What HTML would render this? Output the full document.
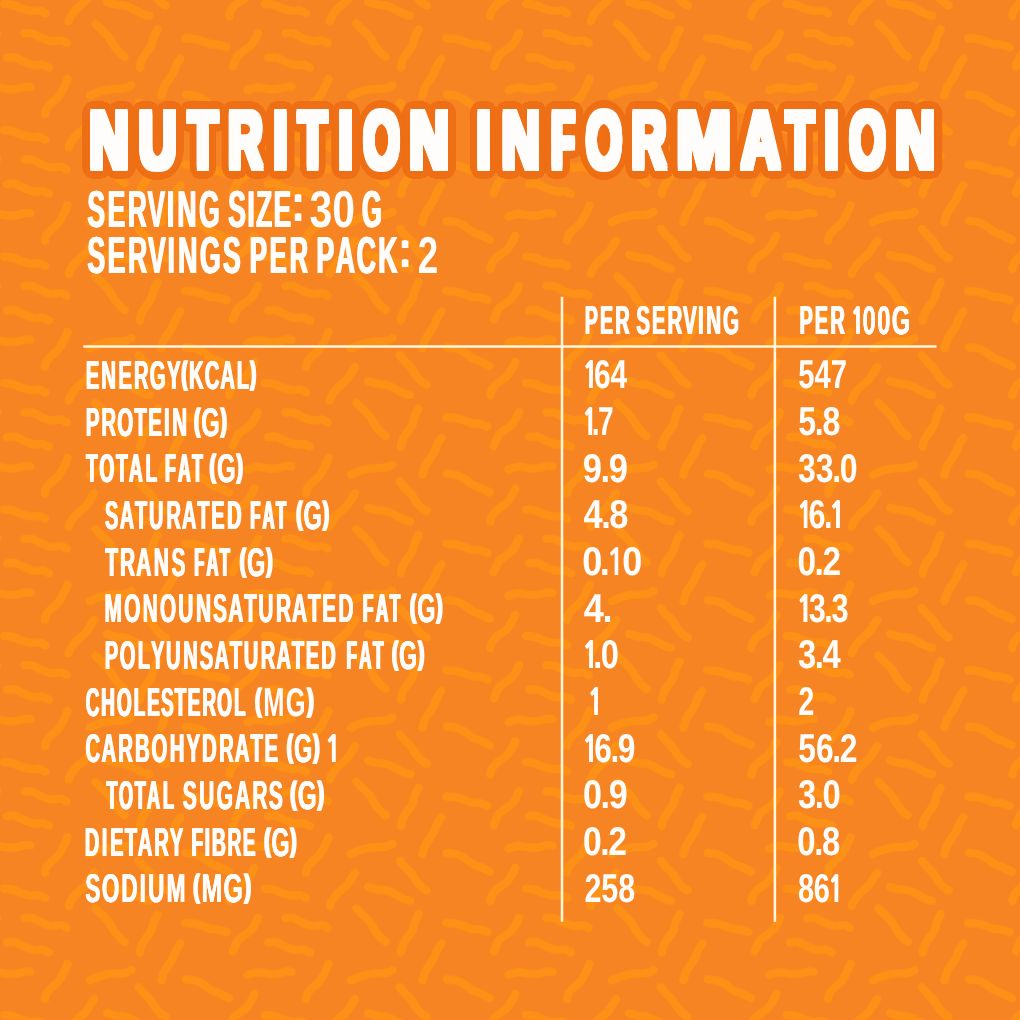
<!DOCTYPE html>
<html lang="en"><head><meta charset="utf-8"><title>Nutrition Information</title>
<style>
html,body{margin:0;padding:0;width:1020px;height:1020px;overflow:hidden;background:#F78420}
svg{display:block;position:absolute;left:0;top:0}
text{font-family:"Liberation Sans",Arial,Helvetica,sans-serif;font-weight:700;fill:#FFFDFB;font-kerning:none;text-rendering:geometricPrecision}
.sq path{fill:none;stroke:#FD9017;stroke-width:8.4;stroke-linecap:round;stroke-linejoin:round}
.n1{font-family:"NanumGothic","Liberation Sans",sans-serif}
.ln{stroke:#FFF6DC;stroke-width:2.5;fill:none}
</style></head><body>
<svg width="1020" height="1020" viewBox="0 0 1020 1020" role="img" aria-label="Nutrition information table">
<defs><pattern id="bg" width="261.0" height="126.4" patternUnits="userSpaceOnUse"><rect width="262.0" height="127.4" fill="#F78420"/><g class="sq">
<path d="M3.9 3.9C5.4 4.1 9.6 4.1 12.7 4.9C15.8 5.7 19.4 7.8 22.5 8.8C25.6 9.8 28.6 10.6 31.4 10.8C34.2 11.1 36.9 9.9 39.2 10.3C41.5 10.7 44.1 12.7 45.1 13.2"/>
<path d="M3.9 130.3C5.4 130.5 9.6 130.5 12.7 131.3C15.8 132.1 19.4 134.2 22.5 135.2C25.6 136.2 28.6 137.0 31.4 137.2C34.2 137.5 36.9 136.3 39.2 136.7C41.5 137.1 44.1 139.1 45.1 139.6"/>
<path d="M264.9 3.9C266.4 4.1 270.6 4.1 273.7 4.9C276.8 5.7 280.4 7.8 283.5 8.8C286.6 9.8 289.6 10.6 292.4 10.8C295.2 11.1 297.9 9.9 300.2 10.3C302.5 10.7 305.1 12.7 306.1 13.2"/>
<path d="M264.9 130.3C266.4 130.5 270.6 130.5 273.7 131.3C276.8 132.1 280.4 134.2 283.5 135.2C286.6 136.2 289.6 137.0 292.4 137.2C295.2 137.5 297.9 136.3 300.2 136.7C302.5 137.1 305.1 139.1 306.1 139.6"/>
<path d="M24.5 33.3C25.8 33.3 29.4 32.5 32.4 33.3C35.4 34.1 38.9 36.9 42.2 38.2C45.5 39.5 48.9 40.9 52.0 41.2C55.1 41.5 58.3 39.9 60.8 40.2C63.2 40.5 65.7 42.6 66.7 43.1"/>
<path d="M6.9 57.8C8.2 57.7 11.8 56.7 14.7 57.4C17.6 58.1 21.2 60.5 24.5 61.8C27.8 63.1 31.3 64.7 34.3 65.2C37.2 65.7 39.8 64.3 42.2 64.7C44.7 65.1 47.9 67.1 49.0 67.6"/>
<path d="M-13.5 90.2C-12.2 89.8 -8.3 88.0 -5.7 87.7C-3.1 87.4 -0.5 87.9 2.1 88.2C4.7 88.5 7.2 89.2 9.8 89.3C12.4 89.4 15.0 89.1 17.6 88.7C20.2 88.3 23.4 87.0 25.5 86.7C27.6 86.5 29.6 87.1 30.4 87.2"/>
<path d="M247.5 90.2C248.8 89.8 252.7 88.0 255.3 87.7C257.9 87.4 260.5 87.9 263.1 88.2C265.7 88.5 268.2 89.2 270.8 89.3C273.4 89.4 276.0 89.1 278.6 88.7C281.2 88.3 284.4 87.0 286.5 86.7C288.6 86.5 290.6 87.1 291.4 87.2"/>
<path d="M94.1 -12.2C93.3 -10.9 90.7 -6.6 89.2 -4.4C87.7 -2.2 87.2 -1.0 85.3 1.0C83.3 3.0 79.8 5.5 77.5 7.8C75.2 10.1 73.1 12.5 71.6 14.7C70.1 16.9 69.2 20.0 68.7 21.1"/>
<path d="M94.1 114.2C93.3 115.5 90.7 119.8 89.2 122.0C87.7 124.2 87.2 125.4 85.3 127.4C83.3 129.4 79.8 131.9 77.5 134.2C75.2 136.5 73.1 138.9 71.6 141.1C70.1 143.3 69.2 146.4 68.7 147.5"/>
<path d="M95.3 23.5C96.3 24.5 98.9 27.1 101.2 29.4C103.5 31.7 106.7 34.3 109.0 37.3C111.3 40.2 112.9 44.3 114.9 47.1C116.9 49.9 119.2 52.3 120.8 53.9C122.4 55.5 124.0 56.4 124.7 56.9"/>
<path d="M67.6 78.9C66.9 80.4 65.3 84.6 63.7 87.7C62.1 90.8 59.9 94.9 57.8 97.5C55.7 100.1 53.0 101.4 51.0 103.4C49.0 105.4 47.1 107.5 46.1 109.3C45.1 111.1 45.3 113.4 45.1 114.2"/>
<path d="M89.8 95.6C91.4 94.9 96.3 92.7 99.6 91.6C102.9 90.5 106.1 89.7 109.4 89.2C112.7 88.7 116.2 89.0 119.2 88.7C122.2 88.5 125.0 88.3 127.1 87.7C129.2 87.1 130.8 85.7 131.5 85.3"/>
<path d="M107.1 2.0C108.4 2.4 111.6 3.8 114.9 4.4C118.2 5.1 123.1 4.8 126.7 5.9C130.3 7.0 133.6 9.3 136.5 10.8C139.4 12.3 142.2 13.9 144.3 14.7C146.4 15.5 148.4 15.5 149.2 15.7"/>
<path d="M107.1 128.4C108.4 128.8 111.6 130.2 114.9 130.8C118.2 131.5 123.1 131.2 126.7 132.3C130.3 133.4 133.6 135.7 136.5 137.2C139.4 138.7 142.2 140.3 144.3 141.1C146.4 141.9 148.4 141.9 149.2 142.1"/>
<path d="M138.8 -24.0C139.6 -23.0 141.7 -20.2 143.7 -18.1C145.7 -16.0 148.6 -13.7 150.6 -11.2C152.6 -8.8 153.8 -5.7 155.5 -3.4C157.2 -1.1 159.3 1.1 161.0 2.6C162.7 4.1 164.9 4.9 165.7 5.4"/>
<path d="M138.8 102.4C139.6 103.4 141.7 106.2 143.7 108.3C145.7 110.4 148.6 112.8 150.6 115.2C152.6 117.7 153.8 120.7 155.5 123.0C157.2 125.3 159.3 127.5 161.0 129.0C162.7 130.5 164.9 131.3 165.7 131.8"/>
<path d="M157.6 29.4C156.9 30.8 154.6 35.2 153.5 38.0C152.4 40.8 152.4 43.6 151.2 46.1C150.0 48.6 147.9 50.5 146.3 52.9C144.7 55.3 142.5 58.3 141.4 60.8C140.3 63.2 140.2 66.5 139.9 67.6"/>
<path d="M185.3 38.2C186.8 38.3 191.2 38.2 194.1 38.7C197.0 39.2 200.1 40.3 202.9 41.2C205.7 42.1 208.2 43.5 210.8 44.1C213.4 44.7 216.0 44.0 218.6 44.6C221.2 45.2 225.2 47.0 226.5 47.5"/>
<path d="M180.4 58.8C179.8 59.8 177.7 62.5 176.5 64.7C175.3 66.9 174.6 69.8 173.5 72.0C172.4 74.2 171.7 75.5 170.2 77.9C168.7 80.4 165.8 83.8 164.3 86.7C162.8 89.7 161.9 94.1 161.4 95.6"/>
<path d="M185.7 94.6C187.2 94.8 191.6 94.8 194.5 95.6C197.4 96.4 200.5 97.9 203.3 99.5C206.1 101.1 208.2 103.8 211.2 105.4C214.1 107.0 218.1 108.0 221.0 109.3C223.9 110.6 227.5 112.5 228.8 113.2"/>
<path d="M254.3 -17.1C253.7 -15.8 251.9 -11.8 250.4 -9.3C248.9 -6.9 247.1 -4.1 245.5 -2.4C243.9 -0.8 242.9 -0.8 241.0 0.6C239.1 2.0 236.1 4.0 234.3 5.9C232.5 7.8 231.2 10.1 230.4 11.8C229.6 13.5 229.6 15.5 229.4 16.2"/>
<path d="M254.3 109.3C253.7 110.6 251.9 114.6 250.4 117.1C248.9 119.5 247.1 122.3 245.5 124.0C243.9 125.7 242.9 125.6 241.0 127.0C239.1 128.4 236.1 130.4 234.3 132.3C232.5 134.2 231.2 136.5 230.4 138.2C229.6 139.9 229.6 141.9 229.4 142.6"/>
<path d="M-3.0 33.0C-4.0 34.8 -6.6 41.1 -8.8 43.9C-11.0 46.7 -13.7 48.2 -16.0 50.0C-18.3 51.8 -21.0 53.1 -22.6 54.9C-24.2 56.7 -24.8 58.8 -25.7 60.8C-26.6 62.8 -27.8 65.7 -28.2 66.7"/>
<path d="M258.0 33.0C257.0 34.8 254.4 41.1 252.2 43.9C250.0 46.7 247.3 48.2 245.0 50.0C242.7 51.8 240.0 53.1 238.4 54.9C236.8 56.7 236.2 58.8 235.3 60.8C234.4 62.8 233.2 65.7 232.8 66.7"/>
</g></pattern><filter id="soft" x="0" y="0" width="1" height="1"><feGaussianBlur stdDeviation="0.7"/></filter></defs>
<rect x="-10" y="-10" width="1040" height="1040" fill="url(#bg)" filter="url(#soft)"/>
<g class="ln"><path d="M83.3 346.6H936.5"/><path d="M562 296.8V921.8"/><path d="M774.9 296.8V921.8"/></g>
<g class="h1" aria-label="NUTRITION INFORMATION"><text transform="scale(0.6401,1)" font-size="81.40" y="168.00" x="139.9 216.9 294.0 356.5 426.9 466.2 528.6 567.5 639.7" style="text-shadow:-4.14px -3.00px 0 #FFFDFB,-4.14px 0.00px 0 #FFFDFB,-4.14px 3.00px 0 #FFFDFB,0.00px -3.00px 0 #FFFDFB,0.00px 3.00px 0 #FFFDFB,4.14px -3.00px 0 #FFFDFB,4.14px 0.00px 0 #FFFDFB,4.14px 3.00px 0 #FFFDFB,-4.14px -1.50px 0 #FFFDFB,-4.14px 1.50px 0 #FFFDFB,4.14px -1.50px 0 #FFFDFB,4.14px 1.50px 0 #FFFDFB,16.17px 0.00px 0 #EE6F15,15.97px 1.67px 0 #EE6F15,15.38px 3.31px 0 #EE6F15,14.41px 4.86px 0 #EE6F15,13.08px 6.29px 0 #EE6F15,11.43px 7.57px 0 #EE6F15,9.50px 8.66px 0 #EE6F15,7.34px 9.53px 0 #EE6F15,5.00px 10.18px 0 #EE6F15,2.53px 10.57px 0 #EE6F15,0.00px 10.70px 0 #EE6F15,-2.53px 10.57px 0 #EE6F15,-5.00px 10.18px 0 #EE6F15,-7.34px 9.53px 0 #EE6F15,-9.50px 8.66px 0 #EE6F15,-11.43px 7.57px 0 #EE6F15,-13.08px 6.29px 0 #EE6F15,-14.41px 4.86px 0 #EE6F15,-15.38px 3.31px 0 #EE6F15,-15.97px 1.67px 0 #EE6F15,-16.17px 0.00px 0 #EE6F15,-15.97px -1.67px 0 #EE6F15,-15.38px -3.31px 0 #EE6F15,-14.41px -4.86px 0 #EE6F15,-13.08px -6.29px 0 #EE6F15,-11.43px -7.57px 0 #EE6F15,-9.50px -8.66px 0 #EE6F15,-7.34px -9.53px 0 #EE6F15,-5.00px -10.18px 0 #EE6F15,-2.53px -10.57px 0 #EE6F15,-0.00px -10.70px 0 #EE6F15,2.53px -10.57px 0 #EE6F15,5.00px -10.18px 0 #EE6F15,7.34px -9.53px 0 #EE6F15,9.50px -8.66px 0 #EE6F15,11.43px -7.57px 0 #EE6F15,13.08px -6.29px 0 #EE6F15,14.41px -4.86px 0 #EE6F15,15.38px -3.31px 0 #EE6F15,15.97px -1.67px 0 #EE6F15,8.94px 0.94px 0 #EE6F15,8.07px 2.72px 0 #EE6F15,6.40px 4.24px 0 #EE6F15,4.11px 5.34px 0 #EE6F15,1.42px 5.92px 0 #EE6F15,-1.42px 5.92px 0 #EE6F15,-4.11px 5.34px 0 #EE6F15,-6.40px 4.24px 0 #EE6F15,-8.07px 2.72px 0 #EE6F15,-8.94px 0.94px 0 #EE6F15,-8.94px -0.94px 0 #EE6F15,-8.07px -2.72px 0 #EE6F15,-6.40px -4.24px 0 #EE6F15,-4.11px -5.34px 0 #EE6F15,-1.42px -5.92px 0 #EE6F15,1.42px -5.92px 0 #EE6F15,4.11px -5.34px 0 #EE6F15,6.40px -4.24px 0 #EE6F15,8.07px -2.72px 0 #EE6F15,8.94px -0.94px 0 #EE6F15"><tspan textLength="60.9" lengthAdjust="spacingAndGlyphs">N</tspan>U<tspan textLength="45.7" lengthAdjust="spacingAndGlyphs">T</tspan><tspan textLength="53.8" lengthAdjust="spacingAndGlyphs">R</tspan><tspan textLength="22.3" lengthAdjust="spacingAndGlyphs">I</tspan><tspan textLength="44.5" lengthAdjust="spacingAndGlyphs">T</tspan>I<tspan textLength="56.7" lengthAdjust="spacingAndGlyphs">O</tspan><tspan textLength="61.5" lengthAdjust="spacingAndGlyphs">N</tspan></text> <text transform="scale(0.6401,1)" font-size="81.40" y="168.00" x="744.9 784.1 862.2 915.5 987.0 1056.2 1158.2 1227.8 1288.3 1327.0 1399.1" style="text-shadow:-4.14px -3.00px 0 #FFFDFB,-4.14px 0.00px 0 #FFFDFB,-4.14px 3.00px 0 #FFFDFB,0.00px -3.00px 0 #FFFDFB,0.00px 3.00px 0 #FFFDFB,4.14px -3.00px 0 #FFFDFB,4.14px 0.00px 0 #FFFDFB,4.14px 3.00px 0 #FFFDFB,-4.14px -1.50px 0 #FFFDFB,-4.14px 1.50px 0 #FFFDFB,4.14px -1.50px 0 #FFFDFB,4.14px 1.50px 0 #FFFDFB,16.17px 0.00px 0 #EE6F15,15.97px 1.67px 0 #EE6F15,15.38px 3.31px 0 #EE6F15,14.41px 4.86px 0 #EE6F15,13.08px 6.29px 0 #EE6F15,11.43px 7.57px 0 #EE6F15,9.50px 8.66px 0 #EE6F15,7.34px 9.53px 0 #EE6F15,5.00px 10.18px 0 #EE6F15,2.53px 10.57px 0 #EE6F15,0.00px 10.70px 0 #EE6F15,-2.53px 10.57px 0 #EE6F15,-5.00px 10.18px 0 #EE6F15,-7.34px 9.53px 0 #EE6F15,-9.50px 8.66px 0 #EE6F15,-11.43px 7.57px 0 #EE6F15,-13.08px 6.29px 0 #EE6F15,-14.41px 4.86px 0 #EE6F15,-15.38px 3.31px 0 #EE6F15,-15.97px 1.67px 0 #EE6F15,-16.17px 0.00px 0 #EE6F15,-15.97px -1.67px 0 #EE6F15,-15.38px -3.31px 0 #EE6F15,-14.41px -4.86px 0 #EE6F15,-13.08px -6.29px 0 #EE6F15,-11.43px -7.57px 0 #EE6F15,-9.50px -8.66px 0 #EE6F15,-7.34px -9.53px 0 #EE6F15,-5.00px -10.18px 0 #EE6F15,-2.53px -10.57px 0 #EE6F15,-0.00px -10.70px 0 #EE6F15,2.53px -10.57px 0 #EE6F15,5.00px -10.18px 0 #EE6F15,7.34px -9.53px 0 #EE6F15,9.50px -8.66px 0 #EE6F15,11.43px -7.57px 0 #EE6F15,13.08px -6.29px 0 #EE6F15,14.41px -4.86px 0 #EE6F15,15.38px -3.31px 0 #EE6F15,15.97px -1.67px 0 #EE6F15,8.94px 0.94px 0 #EE6F15,8.07px 2.72px 0 #EE6F15,6.40px 4.24px 0 #EE6F15,4.11px 5.34px 0 #EE6F15,1.42px 5.92px 0 #EE6F15,-1.42px 5.92px 0 #EE6F15,-4.11px 5.34px 0 #EE6F15,-6.40px 4.24px 0 #EE6F15,-8.07px 2.72px 0 #EE6F15,-8.94px 0.94px 0 #EE6F15,-8.94px -0.94px 0 #EE6F15,-8.07px -2.72px 0 #EE6F15,-6.40px -4.24px 0 #EE6F15,-4.11px -5.34px 0 #EE6F15,-1.42px -5.92px 0 #EE6F15,1.42px -5.92px 0 #EE6F15,4.11px -5.34px 0 #EE6F15,6.40px -4.24px 0 #EE6F15,8.07px -2.72px 0 #EE6F15,8.94px -0.94px 0 #EE6F15"><tspan textLength="21.5" lengthAdjust="spacingAndGlyphs">I</tspan><tspan textLength="59.5" lengthAdjust="spacingAndGlyphs">N</tspan><tspan textLength="34.8" lengthAdjust="spacingAndGlyphs" style="text-shadow:-5.91px -3.00px 0 #FFFDFB,-5.91px 0.00px 0 #FFFDFB,-5.91px 3.00px 0 #FFFDFB,0.00px -3.00px 0 #FFFDFB,0.00px 3.00px 0 #FFFDFB,5.91px -3.00px 0 #FFFDFB,5.91px 0.00px 0 #FFFDFB,5.91px 3.00px 0 #FFFDFB,-5.91px -1.50px 0 #FFFDFB,-5.91px 1.50px 0 #FFFDFB,5.91px -1.50px 0 #FFFDFB,5.91px 1.50px 0 #FFFDFB,23.10px 0.00px 0 #EE6F15,22.81px 1.67px 0 #EE6F15,21.97px 3.31px 0 #EE6F15,20.58px 4.86px 0 #EE6F15,18.69px 6.29px 0 #EE6F15,16.33px 7.57px 0 #EE6F15,13.58px 8.66px 0 #EE6F15,10.49px 9.53px 0 #EE6F15,7.14px 10.18px 0 #EE6F15,3.61px 10.57px 0 #EE6F15,0.00px 10.70px 0 #EE6F15,-3.61px 10.57px 0 #EE6F15,-7.14px 10.18px 0 #EE6F15,-10.49px 9.53px 0 #EE6F15,-13.58px 8.66px 0 #EE6F15,-16.33px 7.57px 0 #EE6F15,-18.69px 6.29px 0 #EE6F15,-20.58px 4.86px 0 #EE6F15,-21.97px 3.31px 0 #EE6F15,-22.81px 1.67px 0 #EE6F15,-23.10px 0.00px 0 #EE6F15,-22.81px -1.67px 0 #EE6F15,-21.97px -3.31px 0 #EE6F15,-20.58px -4.86px 0 #EE6F15,-18.69px -6.29px 0 #EE6F15,-16.33px -7.57px 0 #EE6F15,-13.58px -8.66px 0 #EE6F15,-10.49px -9.53px 0 #EE6F15,-7.14px -10.18px 0 #EE6F15,-3.61px -10.57px 0 #EE6F15,-0.00px -10.70px 0 #EE6F15,3.61px -10.57px 0 #EE6F15,7.14px -10.18px 0 #EE6F15,10.49px -9.53px 0 #EE6F15,13.58px -8.66px 0 #EE6F15,16.33px -7.57px 0 #EE6F15,18.69px -6.29px 0 #EE6F15,20.58px -4.86px 0 #EE6F15,21.97px -3.31px 0 #EE6F15,22.81px -1.67px 0 #EE6F15,12.78px 0.94px 0 #EE6F15,11.52px 2.72px 0 #EE6F15,9.15px 4.24px 0 #EE6F15,5.87px 5.34px 0 #EE6F15,2.02px 5.92px 0 #EE6F15,-2.02px 5.92px 0 #EE6F15,-5.87px 5.34px 0 #EE6F15,-9.15px 4.24px 0 #EE6F15,-11.52px 2.72px 0 #EE6F15,-12.78px 0.94px 0 #EE6F15,-12.78px -0.94px 0 #EE6F15,-11.52px -2.72px 0 #EE6F15,-9.15px -4.24px 0 #EE6F15,-5.87px -5.34px 0 #EE6F15,-2.02px -5.92px 0 #EE6F15,2.02px -5.92px 0 #EE6F15,5.87px -5.34px 0 #EE6F15,9.15px -4.24px 0 #EE6F15,11.52px -2.72px 0 #EE6F15,12.78px -0.94px 0 #EE6F15">F</tspan><tspan textLength="56.1" lengthAdjust="spacingAndGlyphs">O</tspan><tspan textLength="53.9" lengthAdjust="spacingAndGlyphs">R</tspan><tspan textLength="86.0" lengthAdjust="spacingAndGlyphs" style="text-shadow:-3.26px -3.00px 0 #FFFDFB,-3.26px 0.00px 0 #FFFDFB,-3.26px 3.00px 0 #FFFDFB,0.00px -3.00px 0 #FFFDFB,0.00px 3.00px 0 #FFFDFB,3.26px -3.00px 0 #FFFDFB,3.26px 0.00px 0 #FFFDFB,3.26px 3.00px 0 #FFFDFB,-3.26px -1.50px 0 #FFFDFB,-3.26px 1.50px 0 #FFFDFB,3.26px -1.50px 0 #FFFDFB,3.26px 1.50px 0 #FFFDFB,12.75px 0.00px 0 #EE6F15,12.59px 1.67px 0 #EE6F15,12.13px 3.31px 0 #EE6F15,11.36px 4.86px 0 #EE6F15,10.32px 6.29px 0 #EE6F15,9.02px 7.57px 0 #EE6F15,7.49px 8.66px 0 #EE6F15,5.79px 9.53px 0 #EE6F15,3.94px 10.18px 0 #EE6F15,1.99px 10.57px 0 #EE6F15,0.00px 10.70px 0 #EE6F15,-1.99px 10.57px 0 #EE6F15,-3.94px 10.18px 0 #EE6F15,-5.79px 9.53px 0 #EE6F15,-7.49px 8.66px 0 #EE6F15,-9.02px 7.57px 0 #EE6F15,-10.32px 6.29px 0 #EE6F15,-11.36px 4.86px 0 #EE6F15,-12.13px 3.31px 0 #EE6F15,-12.59px 1.67px 0 #EE6F15,-12.75px 0.00px 0 #EE6F15,-12.59px -1.67px 0 #EE6F15,-12.13px -3.31px 0 #EE6F15,-11.36px -4.86px 0 #EE6F15,-10.32px -6.29px 0 #EE6F15,-9.02px -7.57px 0 #EE6F15,-7.49px -8.66px 0 #EE6F15,-5.79px -9.53px 0 #EE6F15,-3.94px -10.18px 0 #EE6F15,-1.99px -10.57px 0 #EE6F15,-0.00px -10.70px 0 #EE6F15,1.99px -10.57px 0 #EE6F15,3.94px -10.18px 0 #EE6F15,5.79px -9.53px 0 #EE6F15,7.49px -8.66px 0 #EE6F15,9.02px -7.57px 0 #EE6F15,10.32px -6.29px 0 #EE6F15,11.36px -4.86px 0 #EE6F15,12.13px -3.31px 0 #EE6F15,12.59px -1.67px 0 #EE6F15,7.05px 0.94px 0 #EE6F15,6.36px 2.72px 0 #EE6F15,5.05px 4.24px 0 #EE6F15,3.24px 5.34px 0 #EE6F15,1.12px 5.92px 0 #EE6F15,-1.12px 5.92px 0 #EE6F15,-3.24px 5.34px 0 #EE6F15,-5.05px 4.24px 0 #EE6F15,-6.36px 2.72px 0 #EE6F15,-7.05px 0.94px 0 #EE6F15,-7.05px -0.94px 0 #EE6F15,-6.36px -2.72px 0 #EE6F15,-5.05px -4.24px 0 #EE6F15,-3.24px -5.34px 0 #EE6F15,-1.12px -5.92px 0 #EE6F15,1.12px -5.92px 0 #EE6F15,3.24px -5.34px 0 #EE6F15,5.05px -4.24px 0 #EE6F15,6.36px -2.72px 0 #EE6F15,7.05px -0.94px 0 #EE6F15">M</tspan><tspan textLength="60.7" lengthAdjust="spacingAndGlyphs">A</tspan><tspan textLength="43.9" lengthAdjust="spacingAndGlyphs">T</tspan><tspan textLength="21.7" lengthAdjust="spacingAndGlyphs">I</tspan><tspan textLength="56.3" lengthAdjust="spacingAndGlyphs">O</tspan><tspan textLength="61.5" lengthAdjust="spacingAndGlyphs">N</tspan></text></g>
<g class="h2" aria-label="SERVING SIZE: 30 G"><text transform="scale(0.5091,1)" font-size="52.04" y="227" x="171.7 211.3 250.9 289.7 327.8 348.4 391.0" style="text-shadow:1.16px 0.00px 0 #FFFDFB,-1.16px 0.00px 0 #FFFDFB">SERVING</text> <text transform="scale(0.5119,1)" font-size="52.04" y="227 227 227 227 221" x="445.8 483.2 500.1 534.3 573.8" style="text-shadow:1.14px 0.00px 0 #FFFDFB,-1.14px 0.00px 0 #FFFDFB">SIZE<tspan style="text-shadow:2.72px 0.00px 0 #FFFDFB,-2.72px 0.00px 0 #FFFDFB,0.91px 0.00px 0 #FFFDFB,-0.91px 0.00px 0 #FFFDFB">:</tspan></text> <text transform="scale(0.7864,1)" font-size="52.04" y="227" x="393.5 422.4">30</text> <text transform="scale(0.4886,1)" font-size="52.04" y="227" x="740.9" style="text-shadow:1.37px 0.00px 0 #FFFDFB,-1.37px 0.00px 0 #FFFDFB">G</text></g>
<g class="h2" aria-label="SERVINGS PER PACK: 2"><text transform="scale(0.5136,1)" font-size="52.04" y="273" x="170.2 209.7 249.3 288.1 326.2 346.7 389.3 433.9" style="text-shadow:1.12px 0.00px 0 #FFFDFB,-1.12px 0.00px 0 #FFFDFB">SERVINGS</text> <text transform="scale(0.4928,1)" font-size="52.04" y="273" x="506.8 547.0 587.6" style="text-shadow:1.33px 0.00px 0 #FFFDFB,-1.33px 0.00px 0 #FFFDFB">PER</text> <text transform="scale(0.5170,1)" font-size="52.04" y="273 273 273 273 267" x="611.9 649.2 689.8 731.5 774.9" style="text-shadow:1.09px 0.00px 0 #FFFDFB,-1.09px 0.00px 0 #FFFDFB">PACK<tspan style="text-shadow:2.68px 0.00px 0 #FFFDFB,-2.68px 0.00px 0 #FFFDFB,0.89px 0.00px 0 #FFFDFB,-0.89px 0.00px 0 #FFFDFB">:</tspan></text> <text transform="scale(0.7065,1)" font-size="52.04" y="273" x="591.2">2</text></g>
<g class="th" aria-label="PER SERVING"><text transform="scale(0.4898,1)" font-size="40.26" y="334" x="1193.9 1225.1 1256.4" style="text-shadow:1.08px 0.00px 0 #FFFDFB,-1.08px 0.00px 0 #FFFDFB">PER</text> <text transform="scale(0.5118,1)" font-size="40.26" y="334" x="1243.1 1273.7 1304.3 1334.4 1363.8 1379.8 1412.7" style="text-shadow:0.91px 0.00px 0 #FFFDFB,-0.91px 0.00px 0 #FFFDFB">SERVING</text></g>
<g class="th" aria-label="PER 100G"><text transform="scale(0.4959,1)" font-size="40.26" y="334" x="1612.0 1643.1 1674.5" style="text-shadow:1.03px 0.00px 0 #FFFDFB,-1.03px 0.00px 0 #FFFDFB">PER</text> <text transform="scale(0.5871,1)" font-size="40.26" y="334" x="1449.6 1469.3 1494.2 1519.1" style="text-shadow:0.42px 0.00px 0 #FFFDFB,-0.42px 0.00px 0 #FFFDFB"><tspan class="n1" font-size="36.59" style="text-shadow:1.18px 0.00px 0 #FFFDFB,-1.18px 0.00px 0 #FFFDFB">1</tspan>00G</text></g>
<g class="tr"><g class="td" aria-label="ENERGY(KCAL)"><text transform="scale(0.5083,1)" font-size="40.26" y="389 389 389 389 389 389 384 389 389 389 389 384" x="168.8 199.3 232.9 263.4 294.5 328.5 357.4 371.9 402.7 433.5 465.8 492.7" style="text-shadow:0.94px 0.00px 0 #FFFDFB,-0.94px 0.00px 0 #FFFDFB">ENERGY<tspan font-size="32.61" style="text-shadow:2.24px 0.00px 0 #FFFDFB,-2.24px 0.00px 0 #FFFDFB,0.75px 0.00px 0 #FFFDFB,-0.75px 0.00px 0 #FFFDFB">(</tspan>KCAL<tspan font-size="32.61" style="text-shadow:2.24px 0.00px 0 #FFFDFB,-2.24px 0.00px 0 #FFFDFB,0.75px 0.00px 0 #FFFDFB,-0.75px 0.00px 0 #FFFDFB">)</tspan></text></g> <g class="td" aria-label="164"><text transform="scale(0.7442,1)" font-size="40.26" y="388" x="782.3 798.2 820.2"><tspan class="n1" font-size="36.59" style="text-shadow:0.48px 0.00px 0 #FFFDFB,-0.48px 0.00px 0 #FFFDFB">1</tspan>64</text></g> <g class="td" aria-label="547"><text transform="scale(0.7247,1)" font-size="40.26" y="388" x="1101.6 1124.0 1146.4">547</text></g></g>
<g class="tr"><g class="td" aria-label="PROTEIN (G)"><text transform="scale(0.5106,1)" font-size="40.26" y="436" x="168.0 198.5 229.8 263.1 290.5 321.2 337.2" style="text-shadow:0.92px 0.00px 0 #FFFDFB,-0.92px 0.00px 0 #FFFDFB">PROTEIN</text> <text transform="scale(0.5880,1)" font-size="40.26" y="431 436 431" x="329.9 342.2 375.0" style="text-shadow:0.42px 0.00px 0 #FFFDFB,-0.42px 0.00px 0 #FFFDFB"><tspan font-size="32.61" style="text-shadow:1.72px 0.00px 0 #FFFDFB,-1.72px 0.00px 0 #FFFDFB">(</tspan>G<tspan font-size="32.61" style="text-shadow:1.72px 0.00px 0 #FFFDFB,-1.72px 0.00px 0 #FFFDFB">)</tspan></text></g> <g class="td" aria-label="1.7"><text transform="scale(0.6960,1)" font-size="40.26" y="435" x="836.1 850.4 859.3"><tspan class="n1" font-size="36.59" style="text-shadow:0.66px 0.00px 0 #FFFDFB,-0.66px 0.00px 0 #FFFDFB">1</tspan>.7</text></g> <g class="td" aria-label="5.8"><text transform="scale(0.7996,1)" font-size="40.26" y="435" x="998.4 1019.1 1028.6">5.8</text></g></g>
<g class="tr"><g class="td" aria-label="TOTAL FAT (G)"><text transform="scale(0.4788,1)" font-size="40.26" y="482" x="179.7 207.6 242.2 269.1 304.0" style="text-shadow:1.17px 0.00px 0 #FFFDFB,-1.17px 0.00px 0 #FFFDFB">TOTAL</text> <text transform="scale(0.4364,1)" font-size="40.26" y="482" x="378.1 407.9 440.2" style="text-shadow:1.57px 0.00px 0 #FFFDFB,-1.57px 0.00px 0 #FFFDFB">FAT</text> <text transform="scale(0.5960,1)" font-size="40.26" y="477 482 477" x="351.7 364.0 396.8" style="text-shadow:0.37px 0.00px 0 #FFFDFB,-0.37px 0.00px 0 #FFFDFB"><tspan font-size="32.61" style="text-shadow:1.68px 0.00px 0 #FFFDFB,-1.68px 0.00px 0 #FFFDFB">(</tspan>G<tspan font-size="32.61" style="text-shadow:1.68px 0.00px 0 #FFFDFB,-1.68px 0.00px 0 #FFFDFB">)</tspan></text></g> <g class="td" aria-label="9.9"><text transform="scale(0.8565,1)" font-size="40.26" y="482" x="680.5 701.2 710.7">9.9</text></g> <g class="td" aria-label="33.0"><text transform="scale(0.7951,1)" font-size="40.26" y="482" x="1003.6 1026.0 1046.7 1056.2">33.0</text></g></g>
<g class="tr"><g class="td" aria-label="SATURATED FAT (G)"><text transform="scale(0.4957,1)" font-size="40.26" y="529" x="211.7 241.6 272.5 300.5 335.7 367.0 397.9 426.2 458.2" style="text-shadow:1.03px 0.00px 0 #FFFDFB,-1.03px 0.00px 0 #FFFDFB">SATURATED</text> <text transform="scale(0.4158,1)" font-size="40.26" y="529" x="601.8 631.6 663.9" style="text-shadow:1.79px 0.00px 0 #FFFDFB,-1.79px 0.00px 0 #FFFDFB">FAT</text> <text transform="scale(0.5859,1)" font-size="40.26" y="524 529 524" x="505.6 517.9 550.7" style="text-shadow:0.43px 0.00px 0 #FFFDFB,-0.43px 0.00px 0 #FFFDFB"><tspan font-size="32.61" style="text-shadow:1.74px 0.00px 0 #FFFDFB,-1.74px 0.00px 0 #FFFDFB">(</tspan>G<tspan font-size="32.61" style="text-shadow:1.74px 0.00px 0 #FFFDFB,-1.74px 0.00px 0 #FFFDFB">)</tspan></text></g> <g class="td" aria-label="4.8"><text transform="scale(0.8547,1)" font-size="40.26" y="528" x="682.7 703.4 712.9">4.8</text></g> <g class="td" aria-label="16.1"><text transform="scale(0.7618,1)" font-size="40.26" y="528" x="1045.5 1061.3 1081.5 1088.0"><tspan class="n1" font-size="36.59" style="text-shadow:0.42px 0.00px 0 #FFFDFB,-0.42px 0.00px 0 #FFFDFB">1</tspan>6.<tspan class="n1" font-size="36.59" style="text-shadow:0.42px 0.00px 0 #FFFDFB,-0.42px 0.00px 0 #FFFDFB">1</tspan></text></g></g>
<g class="tr"><g class="td" aria-label="TRANS FAT (G)"><text transform="scale(0.5211,1)" font-size="40.26" y="576" x="201.9 230.3 261.5 295.1 328.9" style="text-shadow:0.84px 0.00px 0 #FFFDFB,-0.84px 0.00px 0 #FFFDFB">TRANS</text> <text transform="scale(0.4119,1)" font-size="40.26" y="576" x="471.8 501.6 533.8" style="text-shadow:1.83px 0.00px 0 #FFFDFB,-1.83px 0.00px 0 #FFFDFB">FAT</text> <text transform="scale(0.5859,1)" font-size="40.26" y="571 576 571" x="409.2 421.5 454.3" style="text-shadow:0.43px 0.00px 0 #FFFDFB,-0.43px 0.00px 0 #FFFDFB"><tspan font-size="32.61" style="text-shadow:1.74px 0.00px 0 #FFFDFB,-1.74px 0.00px 0 #FFFDFB">(</tspan>G<tspan font-size="32.61" style="text-shadow:1.74px 0.00px 0 #FFFDFB,-1.74px 0.00px 0 #FFFDFB">)</tspan></text></g> <g class="td" aria-label="0.10"><text transform="scale(0.8962,1)" font-size="40.26" y="575" x="649.6 669.3 675.8 694.4">0.<tspan class="n1" font-size="36.59">1</tspan>0</text></g> <g class="td" aria-label="0.2"><text transform="scale(0.8296,1)" font-size="40.26" y="575" x="961.2 981.9 991.4">0.2</text></g></g>
<g class="tr"><g class="td" aria-label="MONOUNSATURATED FAT (G)"><text transform="scale(0.5196,1)" font-size="40.26" y="622" x="201.2 238.9 274.5 307.8 343.1 377.1 410.0 439.3 469.9 497.2 531.3 562.1 592.7 620.3 651.3" style="text-shadow:0.85px 0.00px 0 #FFFDFB,-0.85px 0.00px 0 #FFFDFB">MONOUNSATURATED</text> <text transform="scale(0.4325,1)" font-size="40.26" y="622" x="838.9 868.7 900.9" style="text-shadow:1.61px 0.00px 0 #FFFDFB,-1.61px 0.00px 0 #FFFDFB">FAT</text> <text transform="scale(0.5819,1)" font-size="40.26" y="617 622 617" x="704.7 717.0 749.8" style="text-shadow:0.45px 0.00px 0 #FFFDFB,-0.45px 0.00px 0 #FFFDFB"><tspan font-size="32.61" style="text-shadow:1.76px 0.00px 0 #FFFDFB,-1.76px 0.00px 0 #FFFDFB">(</tspan>G<tspan font-size="32.61" style="text-shadow:1.76px 0.00px 0 #FFFDFB,-1.76px 0.00px 0 #FFFDFB">)</tspan></text></g> <g class="td" aria-label="4."><text transform="scale(0.9003,1)" font-size="40.26" y="622" x="648.4 669.1">4.</text></g> <g class="td" aria-label="13.3"><text transform="scale(0.7647,1)" font-size="40.26" y="622" x="1041.4 1057.5 1078.0 1087.3"><tspan class="n1" font-size="36.59" style="text-shadow:0.41px 0.00px 0 #FFFDFB,-0.41px 0.00px 0 #FFFDFB">1</tspan>3.3</text></g></g>
<g class="tr"><g class="td" aria-label="POLYUNSATURATED FAT (G)"><text transform="scale(0.5007,1)" font-size="40.26" y="669" x="209.0 239.0 274.9 301.4 331.5 365.9 398.9 428.5 459.1 486.6 521.0 552.0 582.7 610.5 641.7" style="text-shadow:1.00px 0.00px 0 #FFFDFB,-1.00px 0.00px 0 #FFFDFB">POLYUNSATURATED</text> <text transform="scale(0.4261,1)" font-size="40.26" y="669" x="813.2 842.9 875.2" style="text-shadow:1.68px 0.00px 0 #FFFDFB,-1.68px 0.00px 0 #FFFDFB">FAT</text> <text transform="scale(0.5779,1)" font-size="40.26" y="664 669 664" x="678.2 690.5 723.3" style="text-shadow:0.47px 0.00px 0 #FFFDFB,-0.47px 0.00px 0 #FFFDFB"><tspan font-size="32.61" style="text-shadow:1.78px 0.00px 0 #FFFDFB,-1.78px 0.00px 0 #FFFDFB">(</tspan>G<tspan font-size="32.61" style="text-shadow:1.78px 0.00px 0 #FFFDFB,-1.78px 0.00px 0 #FFFDFB">)</tspan></text></g> <g class="td" aria-label="1.0"><text transform="scale(0.8092,1)" font-size="40.26" y="668" x="718.7 733.0 742.3"><tspan class="n1" font-size="36.59" style="text-shadow:0.27px 0.00px 0 #FFFDFB,-0.27px 0.00px 0 #FFFDFB">1</tspan>.0</text></g> <g class="td" aria-label="3.4"><text transform="scale(0.8138,1)" font-size="40.26" y="668" x="980.5 1001.3 1010.8">3.4</text></g></g>
<g class="tr"><g class="td" aria-label="CHOLESTEROL (MG)"><text transform="scale(0.4736,1)" font-size="40.26" y="716" x="181.0 213.6 246.8 282.3 310.6 340.0 368.8 396.3 427.2 458.6 494.1" style="text-shadow:1.22px 0.00px 0 #FFFDFB,-1.22px 0.00px 0 #FFFDFB">CHOLESTEROL</text> <text transform="scale(0.6328,1)" font-size="40.26" y="711 716 716 711" x="402.8 416.1 451.5 485.2"><tspan font-size="32.61" style="text-shadow:1.49px 0.00px 0 #FFFDFB,-1.49px 0.00px 0 #FFFDFB">(</tspan>MG<tspan font-size="32.61" style="text-shadow:1.49px 0.00px 0 #FFFDFB,-1.49px 0.00px 0 #FFFDFB">)</tspan></text></g> <g class="td" aria-label="1"><text transform="scale(0.7634,1)" font-size="40.26" y="715" x="769.0"><tspan class="n1" font-size="36.59" style="text-shadow:0.41px 0.00px 0 #FFFDFB,-0.41px 0.00px 0 #FFFDFB">1</tspan></text></g> <g class="td" aria-label="2"><text transform="scale(0.7171,1)" font-size="40.26" y="715" x="1113.3">2</text></g></g>
<g class="tr"><g class="td" aria-label="CARBOHYDRATE (G) 1"><text transform="scale(0.5072,1)" font-size="40.26" y="762" x="168.7 200.0 233.1 266.0 298.9 334.9 367.7 398.1 432.0 463.0 493.7 521.7" style="text-shadow:0.95px 0.00px 0 #FFFDFB,-0.95px 0.00px 0 #FFFDFB">CARBOHYDRATE</text> <text transform="scale(0.5859,1)" font-size="40.26" y="757 762 757" x="489.6 501.9 534.7" style="text-shadow:0.43px 0.00px 0 #FFFDFB,-0.43px 0.00px 0 #FFFDFB"><tspan font-size="32.61" style="text-shadow:1.74px 0.00px 0 #FFFDFB,-1.74px 0.00px 0 #FFFDFB">(</tspan>G<tspan font-size="32.61" style="text-shadow:1.74px 0.00px 0 #FFFDFB,-1.74px 0.00px 0 #FFFDFB">)</tspan></text> <text transform="scale(0.7961,1)" font-size="40.26" y="762" x="407.3"><tspan class="n1" font-size="36.59" style="text-shadow:0.31px 0.00px 0 #FFFDFB,-0.31px 0.00px 0 #FFFDFB">1</tspan></text></g> <g class="td" aria-label="16.9"><text transform="scale(0.7876,1)" font-size="40.26" y="762" x="738.5 754.6 775.1 784.4"><tspan class="n1" font-size="36.59" style="text-shadow:0.34px 0.00px 0 #FFFDFB,-0.34px 0.00px 0 #FFFDFB">1</tspan>6.9</text></g> <g class="td" aria-label="56.2"><text transform="scale(0.7898,1)" font-size="40.26" y="762" x="1010.8 1033.2 1053.9 1063.4">56.2</text></g></g>
<g class="tr"><g class="td" aria-label="TOTAL SUGARS (G)"><text transform="scale(0.4547,1)" font-size="40.26" y="809" x="233.8 261.7 296.3 323.2 358.1" style="text-shadow:1.39px 0.00px 0 #FFFDFB,-1.39px 0.00px 0 #FFFDFB">TOTAL</text> <text transform="scale(0.5237,1)" font-size="40.26" y="809" x="348.9 380.1 413.7 448.8 481.9 513.2" style="text-shadow:0.82px 0.00px 0 #FFFDFB,-0.82px 0.00px 0 #FFFDFB">SUGARS</text> <text transform="scale(0.6041,1)" font-size="40.26" y="804 809 804" x="480.5 492.8 525.6" style="text-shadow:0.33px 0.00px 0 #FFFDFB,-0.33px 0.00px 0 #FFFDFB"><tspan font-size="32.61" style="text-shadow:1.64px 0.00px 0 #FFFDFB,-1.64px 0.00px 0 #FFFDFB">(</tspan>G<tspan font-size="32.61" style="text-shadow:1.64px 0.00px 0 #FFFDFB,-1.64px 0.00px 0 #FFFDFB">)</tspan></text></g> <g class="td" aria-label="0.9"><text transform="scale(0.8478,1)" font-size="40.26" y="808" x="687.6 708.4 717.9">0.9</text></g> <g class="td" aria-label="3.0"><text transform="scale(0.8131,1)" font-size="40.26" y="808" x="981.3 1002.1 1011.5">3.0</text></g></g>
<g class="tr"><g class="td" aria-label="DIETARY FIBRE (G)"><text transform="scale(0.5015,1)" font-size="40.26" y="856" x="169.2 202.8 219.6 248.6 274.7 307.7 338.3" style="text-shadow:0.99px 0.00px 0 #FFFDFB,-0.99px 0.00px 0 #FFFDFB">DIETARY</text> <text transform="scale(0.4803,1)" font-size="40.26" y="856" x="398.4 426.1 441.2 473.6 505.3" style="text-shadow:1.16px 0.00px 0 #FFFDFB,-1.16px 0.00px 0 #FFFDFB">FIBRE</text> <text transform="scale(0.5758,1)" font-size="40.26" y="851 856 851" x="459.2 471.4 504.2" style="text-shadow:0.49px 0.00px 0 #FFFDFB,-0.49px 0.00px 0 #FFFDFB"><tspan font-size="32.61" style="text-shadow:1.79px 0.00px 0 #FFFDFB,-1.79px 0.00px 0 #FFFDFB">(</tspan>G<tspan font-size="32.61" style="text-shadow:1.79px 0.00px 0 #FFFDFB,-1.79px 0.00px 0 #FFFDFB">)</tspan></text></g> <g class="td" aria-label="0.2"><text transform="scale(0.8356,1)" font-size="40.26" y="855" x="697.6 718.4 727.9">0.2</text></g> <g class="td" aria-label="0.8"><text transform="scale(0.8173,1)" font-size="40.26" y="855" x="975.6 996.4 1005.9">0.8</text></g></g>
<g class="tr"><g class="td" aria-label="SODIUM (MG)"><text transform="scale(0.5608,1)" font-size="40.26" y="902" x="152.2 181.6 216.4 248.9 264.1 297.2" style="text-shadow:0.58px 0.00px 0 #FFFDFB,-0.58px 0.00px 0 #FFFDFB">SODIUM</text> <text transform="scale(0.6213,1)" font-size="40.26" y="897 902 902 897" x="310.9 324.2 359.6 393.2" style="text-shadow:0.24px 0.00px 0 #FFFDFB,-0.24px 0.00px 0 #FFFDFB"><tspan font-size="32.61" style="text-shadow:1.55px 0.00px 0 #FFFDFB,-1.55px 0.00px 0 #FFFDFB">(</tspan>MG<tspan font-size="32.61" style="text-shadow:1.55px 0.00px 0 #FFFDFB,-1.55px 0.00px 0 #FFFDFB">)</tspan></text></g> <g class="td" aria-label="258"><text transform="scale(0.7577,1)" font-size="40.26" y="902" x="771.3 793.6 816.0">258</text></g> <g class="td" aria-label="861"><text transform="scale(0.7200,1)" font-size="40.26" y="902" x="1108.5 1130.3 1149.8">86<tspan class="n1" font-size="36.59" style="text-shadow:0.57px 0.00px 0 #FFFDFB,-0.57px 0.00px 0 #FFFDFB">1</tspan></text></g></g>
</svg></body></html>
